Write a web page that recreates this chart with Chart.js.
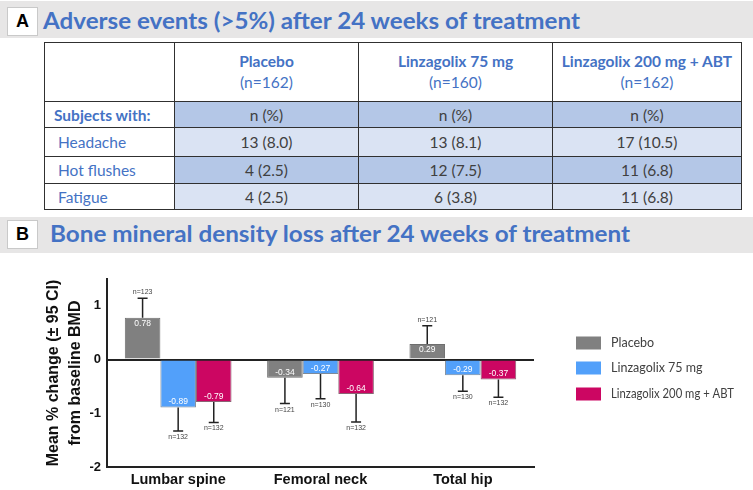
<!DOCTYPE html>
<html>
<head>
<meta charset="utf-8">
<script src="https://cdn.jsdelivr.net/npm/chart.js@4.4.0/dist/chart.umd.min.js"></script>
<style>
  body { margin: 0; width: 753px; height: 490px; position: relative; overflow: hidden; background: #fff; font-family: Lato, sans-serif; }
  .band { position: absolute; left: 0; width: 753px; background: #e7e6e6; }
  .tag { position: absolute; left: 7px; width: 29px; height: 27px; background: #fff; border: 1px solid #c9c9c9;
         font: bold 18px "Liberation Sans", Arial, sans-serif; color: #000; text-align: center; line-height: 27px; }
  .title { position: absolute; white-space: nowrap; font-weight: bold; color: #4472c4; font-size: 22px; line-height: 22px; transform-origin: 0 0; }
  #ae { position: absolute; left: 44px; top: 42px; border-collapse: collapse; table-layout: fixed; font-size: 15.5px; color: #404040; }
  #ae td { border: 1px solid #303030; padding: 0; text-align: center; }
  #ae td.lab { text-align: left; padding-left: 13px; color: #4472c4; background: #fff; }
  #ae td.head { color: #4472c4; background: #fff; line-height: 21px; }
  #chart { position: absolute; left: 0; top: 255px; }
</style>
</head>
<body>
<div class="band" style="top:1px;height:37px"></div>
<div class="tag" style="top:7px">A</div>
<div class="title" id="titleA" style="left:43px;top:10px" data-w="537">Adverse events (&gt;5%) after 24 weeks of treatment</div>

<table id="ae"></table>

<div class="band" style="top:217px;height:36px"></div>
<div class="tag" style="top:220px">B</div>
<div class="title" id="titleB" style="left:50px;top:223px" data-w="580">Bone mineral density loss after 24 weeks of treatment</div>

<canvas id="chart" width="753" height="235"></canvas>

<script>
// table A
var groups = ['Placebo', 'Linzagolix 75 mg', 'Linzagolix 200 mg + ABT'];
var groupN = [162, 160, 162];
var events = ['Headache', 'Hot flushes', 'Fatigue'];
var placeboCount = [13, 4, 4];
var placeboPct = [8.0, 2.5, 2.5];
var linz75Count = [13, 12, 6];
var linz75Pct = [8.1, 7.5, 3.8];
var linz200Count = [17, 11, 11];
var linz200Pct = [10.5, 6.8, 6.8];

// chart B
var categories = ['Lumbar spine', 'Femoral neck', 'Total hip'];
var placeboMean = [0.78, -0.34, 0.29];
var linz75Mean = [-0.89, -0.27, -0.29];
var linz200Mean = [-0.79, -0.64, -0.37];
var placeboCI = [1.14, -0.82, 0.63];
var linz75CI = [-1.33, -0.73, -0.59];
var linz200CI = [-1.17, -1.16, -0.70];
var placeboN = [123, 121, 121];
var linz75N = [132, 130, 130];
var linz200N = [132, 132, 132];
var yTicks = [-2, -1, 0, 1];

//TABLE
var colW = [130, 184, 194, 189];
var rowH = [59, 26, 29, 27, 26];
var rowBg = ['#b4c7e7', '#dae3f3', '#b4c7e7', '#dae3f3'];
var counts = [placeboCount, linz75Count, linz200Count];
var pcts = [placeboPct, linz75Pct, linz200Pct];

var html = '<colgroup>' + colW.map(function (w) { return '<col style="width:' + w + 'px">'; }).join('') + '</colgroup>';
html += '<tr style="height:' + rowH[0] + 'px"><td class="head"></td>';
for (var g = 0; g < groups.length; g++) {
  html += '<td class="head"><b>' + groups[g] + '</b><br>(n=' + groupN[g] + ')</td>';
}
html += '</tr>';
html += '<tr style="height:' + rowH[1] + 'px"><td class="lab" style="padding-left:9px"><b>Subjects with:</b></td>';
for (var g = 0; g < groups.length; g++) html += '<td style="background:' + rowBg[0] + '">n (%)</td>';
html += '</tr>';
for (var e = 0; e < events.length; e++) {
  html += '<tr style="height:' + rowH[e + 2] + 'px"><td class="lab">' + events[e] + '</td>';
  for (var g = 0; g < groups.length; g++) {
    html += '<td style="background:' + rowBg[e + 1] + '">' + counts[g][e] + ' (' + pcts[g][e].toFixed(1) + ')</td>';
  }
  html += '</tr>';
}
document.getElementById('ae').innerHTML = html;

// squeeze the titles to the width they have in the figure
function fitTitles() {
  ['titleA', 'titleB'].forEach(function (id) {
    var el = document.getElementById(id);
    el.style.transform = 'none';
    var w = el.getBoundingClientRect().width;
    el.style.transform = 'scaleX(' + (el.dataset.w / w) + ')';
  });
}
fitTitles();
if (document.fonts) document.fonts.ready.then(fitTitles);

//BAR CHART
var barExtras = {
  id: 'barExtras',
  afterDatasetsDraw: function (chart) {
    var ctx = chart.ctx;
    var y = chart.scales.y;
    chart.data.datasets.forEach(function (ds, i) {
      var meta = chart.getDatasetMeta(i);
      meta.data.forEach(function (bar, j) {
        var v = ds.data[j];
        var up = v >= 0;
        var ciY = y.getPixelForValue(ds.ci[j]);
        ctx.save();
        ctx.strokeStyle = '#222';
        ctx.lineWidth = 1.5;
        ctx.beginPath();
        ctx.moveTo(bar.x, bar.y);
        ctx.lineTo(bar.x, ciY);
        ctx.moveTo(bar.x - 5, ciY);
        ctx.lineTo(bar.x + 5, ciY);
        ctx.stroke();
        ctx.textAlign = 'center';
        ctx.textBaseline = 'middle';
        ctx.fillStyle = '#444';
        ctx.font = '7px "Liberation Sans", Arial, sans-serif';
        ctx.fillText('n=' + ds.n[j], bar.x, ciY + (up ? -6 : 6));
        ctx.fillStyle = '#fff';
        ctx.font = '8.5px "Liberation Sans", Arial, sans-serif';
        ctx.fillText(v.toFixed(2), bar.x, bar.y + (up ? 5.5 : -5.5));
        ctx.restore();
      });
    });
  },
  afterDraw: function (chart) {
    // legend on the right
    var ctx = chart.ctx;
    var rows = [88, 113, 139];
    ctx.save();
    chart.data.datasets.forEach(function (ds, i) {
      ctx.fillStyle = ds.backgroundColor;
      ctx.fillRect(576, rows[i] - 6.5, 25, 13);
      ctx.fillStyle = '#404040';
      ctx.font = '12.5px Lato, sans-serif';
      ctx.textAlign = 'left';
      ctx.textBaseline = 'middle';
      ctx.fillText(ds.label, 611, rows[i], 123);
    });
    ctx.restore();
  }
};

var barChart = new Chart(document.getElementById('chart').getContext('2d'), {
  type: 'bar',
  data: {
    labels: categories,
    datasets: [
      { label: groups[0], data: placeboMean, ci: placeboCI, n: placeboN, backgroundColor: '#808080', borderColor: '#6e6e6e', borderWidth: 1 },
      { label: groups[1], data: linz75Mean, ci: linz75CI, n: linz75N, backgroundColor: '#52a0fa', borderColor: '#7d8a99', borderWidth: 1 },
      { label: groups[2], data: linz200Mean, ci: linz200CI, n: linz200N, backgroundColor: '#cc0662', borderColor: '#8a6474', borderWidth: 1 }
    ]
  },
  options: {
    responsive: false,
    animation: false,
    layout: { padding: { left: 0, right: 219, top: 24, bottom: 0 } },
    datasets: { bar: { categoryPercentage: 0.75, barPercentage: 1.0 } },
    plugins: { legend: { display: false }, tooltip: { enabled: false } },
    scales: {
      x: {
        afterFit: function (s) { s.height = 23; },
        border: { color: '#222', width: 2 },
        grid: { display: false, drawTicks: false },
        ticks: { padding: 4, color: '#111', font: { family: 'Liberation Sans', weight: 'bold', size: 14.5 } }
      },
      y: {
        min: -2,
        max: 1.5,
        afterBuildTicks: function (s) { s.ticks = yTicks.map(function (v) { return { value: v }; }); },
        afterFit: function (s) { s.width = 107; },
        border: { color: '#222', width: 2 },
        grid: {
          drawTicks: false,
          lineWidth: 2,
          color: function (c) { return c.tick && c.tick.value === 0 ? '#222' : 'rgba(0,0,0,0)'; }
        },
        ticks: { padding: 6, color: '#111', font: { family: 'Liberation Sans', weight: 'bold', size: 13 } },
        title: {
          display: true,
          text: ['Mean % change (\u00b1 95 CI)', 'from baseline BMD'],
          color: '#111',
          padding: { top: 43, bottom: 0 },
          font: { family: 'Liberation Sans', weight: 'bold', size: 16, lineHeight: 1.375 }
        }
      }
    }
  },
  plugins: [barExtras]
});
</script>
</body>
</html>
